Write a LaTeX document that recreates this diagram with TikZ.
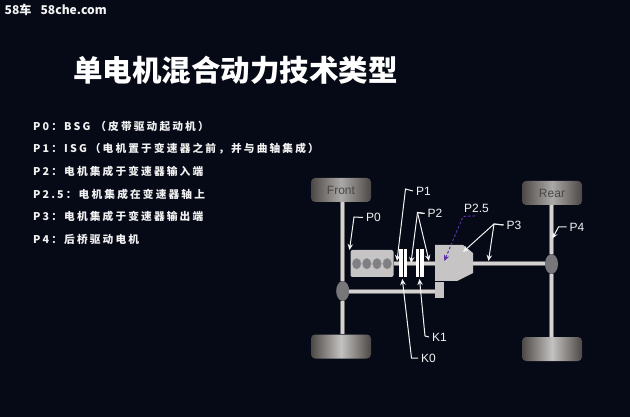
\documentclass[tikz,border=0pt]{standalone}
\usepackage{fontspec}
\usepackage{xcolor}
\usetikzlibrary{arrows.meta,calc,positioning,shapes.geometric}
\setmainfont{Liberation Sans}
\newfontfamily\cjkfont{Noto Sans CJK SC}
\newfontfamily\listfont[LetterSpace=20]{Noto Sans CJK SC}
\definecolor{night}{HTML}{060A16}
\definecolor{paper}{HTML}{F2F2F2}
\definecolor{body}{HTML}{C6C4C4}
\definecolor{shaftdark}{HTML}{6E6C6C}
\definecolor{shaftlight}{HTML}{D4D2D2}
\definecolor{diffgray}{HTML}{77777A}
\definecolor{wheeldark}{HTML}{4C4846}
\definecolor{wheellight}{HTML}{ABA9A7}
\definecolor{wheelbright}{HTML}{C4C2C0}
\definecolor{cylgray}{HTML}{808084}
\definecolor{violet}{HTML}{5A2FA8}
\tikzset{
  wheel/.style={rounded corners=4pt,minimum width=60pt,minimum height=24pt,inner sep=0pt,
    left color=wheeldark,right color=wheeldark,middle color=wheellight,font=\fontsize{12}{14}\selectfont\color{black!72}},
  lowwheel/.style={wheel,left color=wheeldark,right color=wheeldark,middle color=wheelbright},
  diff/.style={ellipse,fill=diffgray,minimum width=13pt,minimum height=20pt,inner sep=0pt},
  shaftline/.style={line width=5pt,shaftdark,postaction={draw=shaftlight,line width=3pt}},
  tag/.style={inner sep=3pt,text=paper,font=\fontsize{12}{14}\selectfont},
  pointer/.style={draw=paper,line width=1pt,-{Stealth[length=6pt,width=5.5pt]}},
  plate/.style={fill=white,draw=none,minimum width=3.2pt,minimum height=28.4pt,inner sep=0pt},
  listitem/.style={anchor=west,inner sep=0pt,text=paper,font=\fontsize{10.7}{12}\selectfont\listfont\bfseries},
}
\begin{document}
\begin{tikzpicture}[x=1pt,y=-1pt]
        \fill[night] (0,0) rectangle (630,417);
        \useasboundingbox (0,0) rectangle (630,417);
        \node[anchor=west,inner sep=0pt,text=paper,font=\fontsize{12.1}{14}\selectfont\cjkfont\bfseries] (brand) at (4.5,10) {58车\hspace{9pt}58che.com};
        \node[anchor=west,inner sep=0pt,text=white,font=\fontsize{29.5}{34}\selectfont\cjkfont\bfseries] (title) at (73,70.5) {单电机混合动力技术类型};
        \foreach \y/\name/\txt in {126.5/itemA/{P0：BSG\hspace{5pt}（皮带驱动起动机）},149/itemB/{P1：ISG\hspace{3pt}（电机置于变速器之前，并与曲轴集成）},171.5/itemC/{P2：电机集成于变速器输入端},194/itemD/{P2.5：电机集成在变速器轴上},216.5/itemE/{P3：电机集成于变速器输出端},239/itemF/{P4：后桥驱动电机}}{
          \node[listitem] (\name) at (33,\y) {\txt};}
        % wheels and axles
        \node[wheel] (frontup) at (341,190) {Front};
        \node[lowwheel] (frontdown) at (341,346.5) {};
        \node[wheel] (rearup) at (552,193) {Rear};
        \node[lowwheel] (reardown) at (552,349) {};
        \node[diff] (frontdiff) at (342.7,291) {};
        \node[diff] (reardiff) at (551.5,264) {};
        \draw[shaftline] (frontdiff.north) -- (frontdiff.north |- frontup.south);
        \draw[shaftline] (frontdiff.south) -- (frontdiff.south |- frontdown.north);
        \draw[shaftline] (reardiff.north) -- (reardiff.north |- rearup.south);
        \draw[shaftline] (reardiff.south) -- (reardiff.south |- reardown.north);
        % engine and gearbox
        \node[fill=body,rounded corners=2pt,minimum width=43pt,minimum height=27pt,inner sep=0pt] (engine) at (372,263.5) {};
        \foreach \cx/\name in {356.7/cylA,366.8/cylB,377/cylC,387.2/cylD}{
          \node[ellipse,fill=cylgray,draw=black!40,line width=0.3pt,minimum width=8.8pt,minimum height=10.8pt,inner sep=0pt] (\name) at (\cx,263.7) {};}
        \fill[body] (435,245) -- (463,245) -- (473,253) -- (473,273) -- (457,281) -- (435,281) -- cycle;
        \fill[body] (435,282) rectangle (444,298);
        \coordinate (boxin) at (435,264);
        \coordinate (boxout) at (473,264);
        \coordinate (boxlow) at (435,291);
        \draw[shaftline] (engine.east |- boxin) -- (boxin);
        \draw[shaftline] (boxout) -- (reardiff.west);
        \draw[shaftline] (frontdiff.east) -- (boxlow);
        % clutches
        \fill[night] (402,249) rectangle (404.5,277.4);
        \fill[night] (418.7,249) rectangle (421.2,277.4);
        \foreach \cx/\name in {401/plateA,405.2/plateB,417.7/plateC,422/plateD}{
          \node[plate] (\name) at (\cx,263.2) {};}
        % labels
        \node[tag,anchor=west] (tagPzero) at (363,217.5) {P0};
        \node[tag,anchor=west] (tagPone) at (413,191) {P1};
        \node[tag,anchor=west] (tagPtwo) at (424.5,213.5) {P2};
        \node[tag,anchor=west] (tagPtwofive) at (461,208.5) {P2.5};
        \node[tag,anchor=west] (tagPthree) at (503.5,225) {P3};
        \node[tag,anchor=west] (tagPfour) at (566.5,227) {P4};
        \node[tag,anchor=west] (tagKzero) at (418,358) {K0};
        \node[tag,anchor=west] (tagKone) at (429,337) {K1};
        \draw[pointer] (tagPzero.west) -- ++(-9,-0.5) -- (349.5,250);
        \draw[pointer] (tagPone.west) -- ++(-7.5,-2) -- (397,261);
        \draw[pointer] (tagPtwo.west) -- ++(-7,-1) -- (411,263);
        \draw[pointer] (tagPtwo.west) -- ++(-7,-1) -- (429,261);
        \draw[draw=violet,line width=1pt,dash pattern=on 2.5pt off 2pt,-{Stealth[length=6pt,width=5.5pt]}] (tagPtwofive.south -| 475,216.5) -- (463,216.5) -- (444.3,261);
        \draw[pointer] (tagPthree.west) -- ++(-9.5,-1) -- (463,252);
        \draw[pointer] (tagPthree.west) -- ++(-9.5,-1) -- (488.5,261);
        \draw[pointer] (tagPfour.west) -- ++(-8,0) -- (552.3,238.5);
        \draw[pointer] (tagKzero.west) -- ++(-6.5,0) -- (402.3,279);
        \draw[pointer] (tagKone.west) -- ++(-4,-1) -- (419.5,279);
      \end{tikzpicture}
\end{document}
